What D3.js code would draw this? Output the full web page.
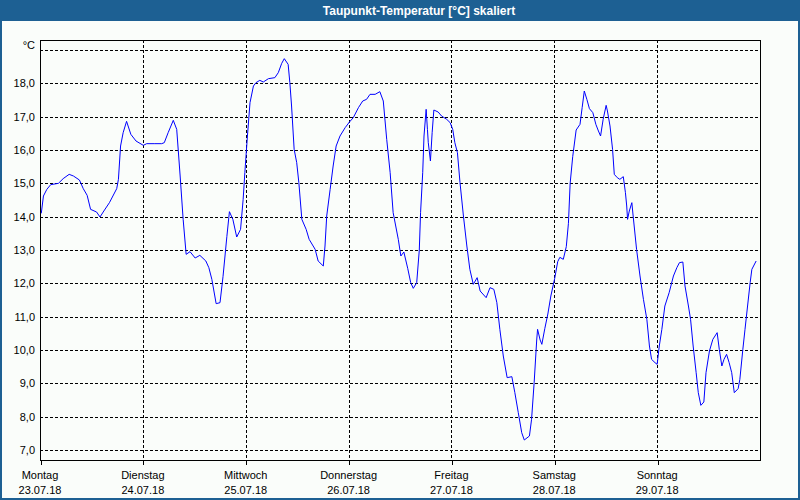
<!DOCTYPE html>
<html>
<head>
<meta charset="utf-8">
<script src="https://cdn.jsdelivr.net/npm/d3@7/dist/d3.min.js"></script>
<style>
  html, body { margin: 0; padding: 0; background: #fff; }
  svg { display: block; }
  text { font-family: "Liberation Sans", Arial, sans-serif; }
</style>
</head>
<body>
<svg id="chart" width="800" height="500"></svg>
<script>
// ---- data ----
const title = "Taupunkt-Temperatur [°C] skaliert";
const dayNames = ["Montag", "Dienstag", "Mittwoch", "Donnerstag", "Freitag", "Samstag", "Sonntag"];
const dayDates = ["23.07.18", "24.07.18", "25.07.18", "26.07.18", "27.07.18", "28.07.18", "29.07.18"];
const dayStartHours = [0, 24, 48, 72, 96, 120, 144];
const yTickValues = [7, 8, 9, 10, 11, 12, 13, 14, 15, 16, 17, 18];
const yUnitLabel = "°C";
// hours since Monday 23.07.18 00:00
const hours = [
  0.3, 0.8, 1.6, 2.5, 4.3, 5.4, 6.8, 7.8, 9.2, 10.1, 11.0, 11.8, 13.2, 14.0, 14.9, 16.2, 17.9, 18.3, 18.8, 19.4,
  20.2, 21.2, 22.4, 24.1, 24.9, 26.8, 28.4, 29.0, 29.9, 31.1, 31.9, 32.7, 33.4, 34.1, 35.0, 36.2, 37.3, 38.7, 39.4, 40.1,
  41.1, 42.0, 42.7, 43.6, 44.2, 45.0, 45.9, 46.8, 47.4, 47.8, 48.4, 49.0, 49.8, 50.4, 51.3, 52.1, 53.3, 54.8, 55.6, 56.4,
  57.0, 57.9, 58.3, 58.7, 59.3, 59.9, 60.4, 61.1, 62.1, 62.8, 64.2, 64.9, 66.1, 66.5, 66.9, 67.7, 68.4, 69.1, 70.0, 71.2,
  72.2, 73.1, 74.3, 75.3, 76.2, 77.0, 78.2, 79.3, 80.1, 80.9, 81.7, 82.4, 83.6, 84.2, 84.9, 85.8, 86.5, 87.1, 87.9, 88.5,
  88.8, 89.3, 89.6, 90.1, 90.4, 90.6, 91.1, 91.5, 91.9, 92.9, 93.7, 94.9, 95.7, 96.3, 96.8, 97.4, 98.0, 98.8, 99.6, 100.3,
  101.1, 102.0, 102.7, 104.1, 105.0, 105.9, 106.6, 107.3, 108.1, 109.0, 110.1, 110.8, 111.6, 112.4, 113.0, 114.2, 114.7, 115.3, 115.9, 116.1,
  116.7, 117.1, 117.8, 118.5, 119.2, 120.1, 120.8, 121.3, 122.1, 122.8, 123.3, 123.7, 124.3, 125.1, 126.0, 126.5, 127.0, 127.6, 128.2, 129.0,
  129.7, 130.3, 130.8, 131.4, 132.1, 132.4, 133.0, 133.6, 134.0, 134.7, 135.3, 136.1, 136.6, 136.9, 137.1, 137.5, 138.1, 138.4, 139.2, 140.0,
  140.8, 141.6, 142.2, 142.7, 143.5, 144.0, 144.5, 145.1, 145.8, 146.8, 147.8, 148.6, 149.2, 150.0, 150.5, 151.3, 151.8, 152.4, 153.1, 153.6,
  154.2, 154.9, 155.4, 156.2, 157.0, 158.0, 158.5, 159.1, 159.6, 160.2, 160.8, 161.4, 162.0, 162.9, 163.3, 164.0, 164.5, 165.1, 165.7, 166.1,
  167.1
];
const dewpoint = [
  14.10, 14.62, 14.82, 14.96, 15.00, 15.14, 15.27, 15.22, 15.10, 14.84, 14.64, 14.22, 14.14, 13.99, 14.17, 14.42, 14.84, 15.12, 16.12, 16.52,
  16.86, 16.47, 16.27, 16.14, 16.19, 16.19, 16.19, 16.22, 16.52, 16.89, 16.62, 15.22, 13.92, 12.87, 12.95, 12.76, 12.84, 12.67, 12.47, 12.12,
  11.39, 11.42, 12.20, 13.40, 14.15, 13.92, 13.39, 13.62, 14.52, 15.32, 16.42, 17.42, 17.92, 18.02, 18.09, 18.04, 18.14, 18.17, 18.32, 18.60,
  18.74, 18.57, 18.02, 17.32, 16.02, 15.62, 15.02, 13.92, 13.62, 13.32, 13.02, 12.67, 12.52, 13.12, 14.02, 14.82, 15.52, 16.12, 16.42, 16.67,
  16.84, 16.97, 17.27, 17.47, 17.52, 17.67, 17.67, 17.75, 17.47, 16.32, 15.32, 14.12, 13.32, 12.82, 12.94, 12.45, 12.02, 11.85, 12.02, 13.00,
  14.12, 15.32, 16.42, 17.22, 16.62, 16.22, 15.67, 16.52, 17.20, 17.14, 17.02, 16.92, 16.82, 16.62, 16.22, 15.92, 15.02, 14.02, 13.12, 12.42,
  11.97, 12.17, 11.77, 11.57, 11.87, 11.82, 11.42, 10.62, 9.82, 9.17, 9.20, 8.72, 8.12, 7.52, 7.30, 7.42, 7.92, 9.02, 10.30, 10.62,
  10.30, 10.17, 10.65, 11.08, 11.62, 12.15, 12.65, 12.78, 12.72, 13.10, 13.80, 15.00, 15.80, 16.60, 16.77, 17.27, 17.77, 17.52, 17.24, 17.12,
  16.77, 16.57, 16.42, 16.92, 17.34, 17.17, 16.72, 16.02, 15.27, 15.17, 15.12, 15.20, 14.72, 14.32, 13.92, 14.17, 14.42, 14.02, 13.02, 12.22,
  11.52, 10.92, 10.12, 9.72, 9.62, 9.57, 10.12, 10.62, 11.32, 11.72, 12.22, 12.47, 12.62, 12.64, 11.92, 11.32, 10.92, 10.12, 9.32, 8.72,
  8.34, 8.44, 9.32, 9.97, 10.32, 10.52, 10.02, 9.52, 9.72, 9.87, 9.62, 9.32, 8.72, 8.84, 9.12, 10.02, 10.62, 11.32, 12.02, 12.42,
  12.67
];

// ---- layout ----
const W = 800, H = 500;
const plot = { left: 40, right: 760, top: 40, bottom: 460 };
const frameBlue = "#1d6093";
const bg = "#fafdfa";

const svg = d3.select("#chart");

// frame + background
svg.append("rect").attr("x", 0).attr("y", 0).attr("width", W).attr("height", H).attr("fill", frameBlue);
svg.append("rect").attr("x", 2).attr("y", 21).attr("width", W - 4).attr("height", H - 23).attr("fill", bg);

svg.append("text")
  .attr("x", 419).attr("y", 15)
  .attr("text-anchor", "middle")
  .attr("fill", "#ffffff")
  .attr("font-size", "12px")
  .attr("font-weight", "bold")
  .text(title);

const x = d3.scaleLinear().domain([0, 168]).range([plot.left, plot.right]);
const y = d3.scaleLinear().domain([6.7, 19.3]).range([plot.bottom, plot.top]);

const g = svg.append("g").attr("shape-rendering", "crispEdges");

// horizontal gridlines (7..19)
const gridY = yTickValues.concat([19]);
g.selectAll("line.hgrid").data(gridY).enter().append("line")
  .attr("class", "hgrid")
  .attr("x1", plot.left).attr("x2", plot.right)
  .attr("y1", d => Math.round(y(d)) + 0.5).attr("y2", d => Math.round(y(d)) + 0.5)
  .attr("stroke", "#000").attr("stroke-width", 1).attr("stroke-dasharray", "3,2");

// vertical gridlines
g.selectAll("line.vgrid").data(dayStartHours.slice(1)).enter().append("line")
  .attr("class", "vgrid")
  .attr("x1", d => Math.round(x(d)) + 0.5).attr("x2", d => Math.round(x(d)) + 0.5)
  .attr("y1", plot.top).attr("y2", plot.bottom)
  .attr("stroke", "#000").attr("stroke-width", 1).attr("stroke-dasharray", "3,2");

// box
g.append("rect")
  .attr("x", plot.left + 0.5).attr("y", plot.top + 0.5)
  .attr("width", plot.right - plot.left).attr("height", plot.bottom - plot.top)
  .attr("fill", "none").attr("stroke", "#000").attr("stroke-width", 1);

// x axis with day ticks
const xAxis = d3.axisBottom(x)
  .tickValues(dayStartHours)
  .tickSize(4)
  .tickFormat(() => "");
const xg = svg.append("g").attr("transform", `translate(0.5,${plot.bottom + 0.5})`).call(xAxis);
xg.select(".domain").remove();
xg.selectAll(".tick line").attr("stroke", "#000").attr("shape-rendering", "crispEdges");

const labels = svg.append("g");
dayStartHours.forEach((h, i) => {
  labels.append("text").attr("x", x(h)).attr("y", 479)
    .attr("text-anchor", "middle").attr("font-size", "11px").attr("fill", "#000")
    .text(dayNames[i]);
  labels.append("text").attr("x", x(h)).attr("y", 494)
    .attr("text-anchor", "middle").attr("font-size", "11px").attr("fill", "#000")
    .text(dayDates[i]);
});

// y axis labels
const fmt = v => d3.format(".1f")(v).replace(".", ",");
const yAxis = d3.axisLeft(y).tickValues(yTickValues).tickSize(0).tickPadding(5).tickFormat(fmt);
const yg = svg.append("g").attr("transform", `translate(${plot.left},0)`).call(yAxis);
yg.select(".domain").remove();
yg.selectAll("text").attr("font-size", "11px").attr("fill", "#000")
  .attr("font-family", "'Liberation Sans', Arial, sans-serif");

svg.append("text").attr("x", 35).attr("y", y(19) - 1)
  .attr("text-anchor", "end").attr("font-size", "11px").attr("fill", "#000")
  .text(yUnitLabel);

// data line
const pts = hours.map((h, i) => [h, dewpoint[i]]);
svg.append("path")
  .datum(pts)
  .attr("fill", "none")
  .attr("stroke", "#0000ff")
  .attr("stroke-width", 1)
  .attr("d", d3.line().x(d => x(d[0])).y(d => y(d[1])));
</script>
</body>
</html>
